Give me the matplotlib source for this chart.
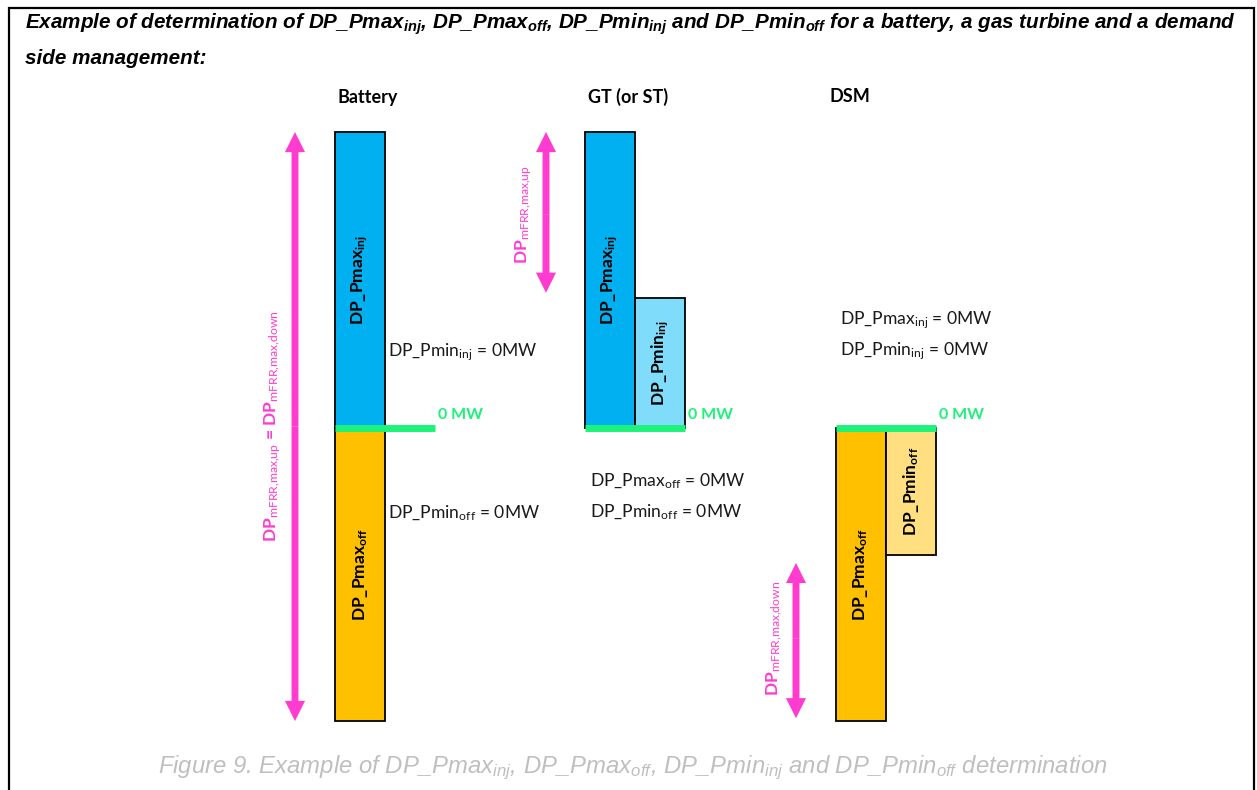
import matplotlib.pyplot as plt

# шрифты для подписей с индексами
plt.rcParams['mathtext.fontset'] = 'custom'
plt.rcParams['mathtext.rm'] = 'Lato'
plt.rcParams['mathtext.bf'] = 'Lato:bold'
plt.rcParams['mathtext.it'] = 'Liberation Sans:italic'
plt.rcParams['mathtext.bfit'] = 'Liberation Sans:italic:bold'

# Данные (условные МВт)
units = ['Battery', 'GT (or ST)', 'DSM']
pmax_inj = [100, 100, 0]
pmin_inj = [0, 44, 0]
pmax_off = [99, 0, 99]
pmin_off = [0, 0, 43]

# Размещение
unit_left = [335, 585, 836]
bar_w = 50
px_per_mw = 2.96
zero_px = 428
W, H = 1257, 790

blue = '#00B0F0'
light_blue = '#7FDDFB'
orange = '#FFC000'
light_orange = '#FFDF80'
green = '#1DF27A'
pink = '#FF3CCF'

fig = plt.figure(figsize=(W / 100, H / 100), dpi=100)

# ось диаграммы: x в пикселях, y в МВт
ax = fig.add_axes([0, 0, 1, 1])
ax.set_xlim(0, W)
ax.set_ylim(-(H - zero_px) / px_per_mw, zero_px / px_per_mw)
ax.axis('off')

# верхний слой для текста в пикселях
ov = fig.add_axes([0, 0, 1, 1], facecolor='none')
ov.set_xlim(0, W)
ov.set_ylim(H, 0)
ov.axis('off')

bar_kw = dict(width=bar_w, align='edge', edgecolor='black', linewidth=1.3)
lab_kw = dict(rotation=90, ha='center', va='center', fontsize=12.5,
              fontweight='bold', family='Lato')

for i, x0 in enumerate(unit_left):
    x1 = x0 + bar_w
    if pmax_inj[i] > 0:
        ax.bar(x0, pmax_inj[i], color=blue, **bar_kw)
        ax.text(x0 + bar_w / 2, pmax_inj[i] / 2, r'DP_Pmax$_{\mathbf{inj}}$', **lab_kw)
    if pmin_inj[i] > 0:
        ax.bar(x1, pmin_inj[i], color=light_blue, **bar_kw)
        ax.text(x1 + bar_w / 2, pmin_inj[i] / 2, r'DP_Pmin$_{\mathbf{inj}}$', **lab_kw)
    if pmax_off[i] > 0:
        ax.bar(x0, -pmax_off[i], color=orange, **bar_kw)
        ax.text(x0 + bar_w / 2, -pmax_off[i] / 2, r'DP_Pmax$_{\mathbf{off}}$', **lab_kw)
    if pmin_off[i] > 0:
        ax.bar(x1, -pmin_off[i], color=light_orange, **bar_kw)
        ax.text(x1 + bar_w / 2, -pmin_off[i] / 2, r'DP_Pmin$_{\mathbf{off}}$', **lab_kw)

    # линия 0 МВт
    ax.plot([x0, x0 + 2 * bar_w], [0, 0], color=green, lw=5, solid_capstyle='butt')
    ax.text(x0 + 2 * bar_w + 3, 4.5, '0 MW', color=green, fontsize=11.5,
            fontweight='bold', family='Lato', va='center')

    # заголовок блока
    ax.text(x0 + [33, 43, 14][i], (zero_px - 97) / px_per_mw, units[i],
            ha='center', va='center', fontsize=13, fontweight='bold', family='Lato')

# стрелки диапазонов mFRR
arrows = [
    # x, верх, низ, сдвиг верх/низ (pt), подпись
    (unit_left[0] - 40, pmax_inj[0], -pmax_off[0], 0, 0,
     r'DP$_{\mathrm{mFRR{,}max{,}up}}$ = DP$_{\mathrm{mFRR{,}max{,}down}}$'),
    (unit_left[1] - 39, pmax_inj[1], pmin_inj[1], 0, 3.6,
     r'DP$_{\mathrm{mFRR{,}max{,}up}}$'),
    (unit_left[2] - 40, -pmin_off[2], -pmax_off[2], 5.5, -2,
     r'DP$_{\mathrm{mFRR{,}max{,}down}}$'),
]
astyle = 'simple,head_length=1.45,head_width=1.45,tail_width=0.5'
for x, top, bot, s_top, s_bot, label in arrows:
    mid = (top + bot) / 2
    ax.annotate('', xy=(x, top), xytext=(x, mid),
                arrowprops=dict(arrowstyle=astyle, fc=pink, ec='none', lw=0,
                                shrinkA=0, shrinkB=s_top, mutation_scale=10))
    ax.annotate('', xy=(x, bot), xytext=(x, mid),
                arrowprops=dict(arrowstyle=astyle, fc=pink, ec='none', lw=0,
                                shrinkA=0, shrinkB=s_bot, mutation_scale=10))
    ax.text(x - 22, mid, label, rotation=90, ha='center', va='center',
            color=pink, fontsize=12.5, fontweight='bold', family='Lato')

# пояснения "= 0MW"
notes = [
    (388, 352, r'DP_Pmin$_{\mathrm{inj}}$ = 0MW'),
    (388, 513, r'DP_Pmin$_{\mathrm{off}}$ = 0MW'),
    (590, 481, r'DP_Pmax$_{\mathrm{off}}$ = 0MW'),
    (590, 512, r'DP_Pmin$_{\mathrm{off}}$ = 0MW'),
    (840, 320, r'DP_Pmax$_{\mathrm{inj}}$ = 0MW'),
    (840, 351, r'DP_Pmin$_{\mathrm{inj}}$ = 0MW'),
]
for x, y, s in notes:
    ov.text(x, y, s, ha='left', va='center', fontsize=12.6, family='Lato', color='#1a1a1a')

# заголовок и подпись рисунка
title1 = (r'Example of determination of DP_Pmax$_{\mathbfit{inj}}$, DP_Pmax$_{\mathbfit{off}}$, '
          r'DP_Pmin$_{\mathbfit{inj}}$ and DP_Pmin$_{\mathbfit{off}}$ for a battery, '
          r'a gas turbine and a demand')
ov.text(25, 29, title1, ha='left', va='baseline', fontsize=14.9,
        family='Liberation Sans', fontweight='bold', fontstyle='italic')
ov.text(25, 64, 'side management:', ha='left', va='baseline', fontsize=14.9,
        family='Liberation Sans', fontweight='bold', fontstyle='italic')

caption = (r'Figure 9. Example of DP_Pmax$_{\mathit{inj}}$, DP_Pmax$_{\mathit{off}}$, '
           r'DP_Pmin$_{\mathit{inj}}$ and DP_Pmin$_{\mathit{off}}$ determination')
ov.text(633, 768, caption, ha='center', va='center', fontsize=17.2,
        family='Liberation Sans', fontstyle='italic', color='#BFBFBF')

# рамка
ov.plot([9, 9, 1254, 1254], [H, 8, 8, H], color='black', lw=1.6, solid_joinstyle='miter')

plt.savefig('out.png', dpi=100)
